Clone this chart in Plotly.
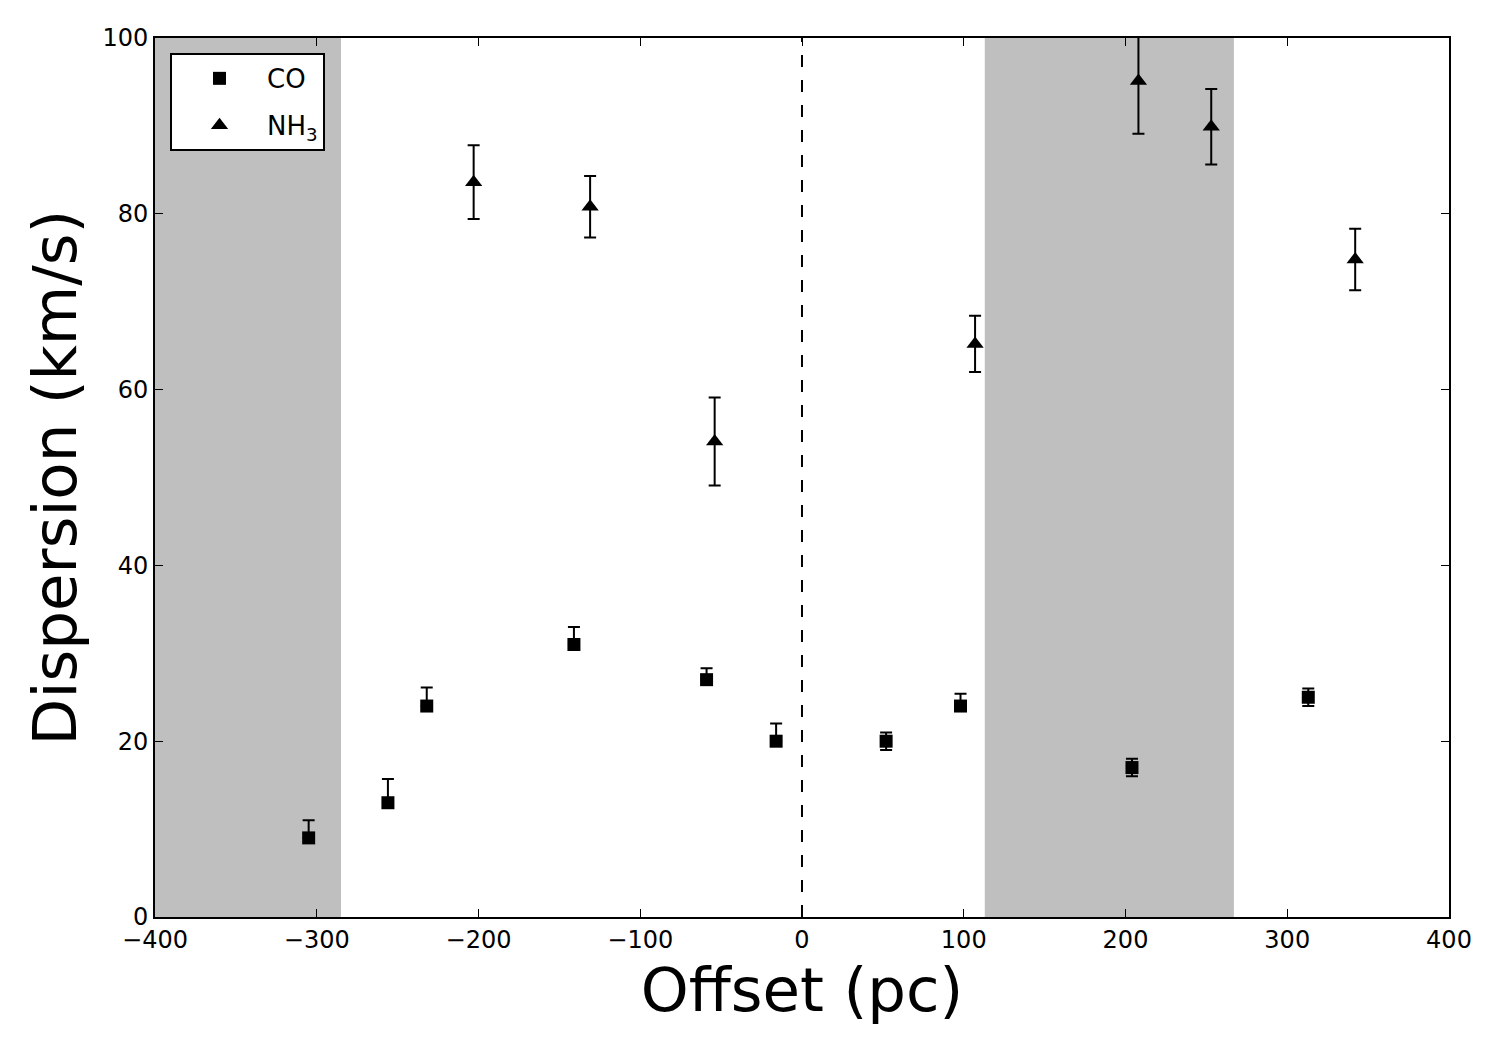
import plotly.graph_objects as go

# CO data
co_x = [-305, -256, -232, -141, -59, -16, 52, 98, 204, 313]
co_y = [9, 13, 24, 31, 27, 20, 20, 24, 17, 25]
co_err_plus = [2.0, 2.7, 2.1, 2.0, 1.3, 2.0, 1.0, 1.4, 1.0, 1.0]
co_err_minus = [0.0, 0.0, 0.0, 0.0, 0.0, 0.0, 1.0, 0.0, 1.0, 1.0]

# NH3 data
nh3_x = [-203, -131, -54, 107, 208, 253, 342]
nh3_y = [83.6, 80.8, 54.1, 65.2, 95.1, 89.9, 74.8]
nh3_err = [4.2, 3.5, 5.0, 3.2, 6.0, 4.3, 3.5]

# shaded regions (x ranges)
shade_regions = [(-400, -285), (113, 267)]

font_family = "DejaVu Sans"

fig = go.Figure()

fig.add_trace(go.Scatter(
    x=co_x, y=co_y, mode="markers", name="CO", legendgroup="co",
    marker=dict(symbol="square", size=13, color="black"),
    error_y=dict(type="data", symmetric=False, array=co_err_plus, arrayminus=co_err_minus,
                 color="black", thickness=2, width=6),
))
fig.add_trace(go.Scatter(
    x=nh3_x, y=nh3_y, mode="markers", name="NH<sub>3</sub>", legendgroup="nh3",
    marker=dict(symbol="triangle-up", size=15, color="black"),
    error_y=dict(type="data", array=nh3_err, color="black", thickness=2, width=6),
))

shapes = []
for x0, x1 in shade_regions:
    shapes.append(dict(type="rect", xref="x", yref="paper", x0=x0, x1=x1, y0=0, y1=1,
                       fillcolor="#bfbfbf", line=dict(width=0), layer="below"))
shapes.append(dict(type="line", xref="x", yref="paper", x0=0, x1=0, y0=0, y1=1,
                   line=dict(color="black", width=2, dash="12px,13px"), layer="above"))

fig.update_layout(
    width=1500, height=1050,
    margin=dict(l=155, r=51, t=38, b=133),
    paper_bgcolor="white", plot_bgcolor="white",
    font=dict(family=font_family, color="black", size=24),
    shapes=shapes,
    showlegend=True,
    legend=dict(x=0.0116, y=0.983, xanchor="left", yanchor="top",
                bordercolor="black", borderwidth=2, bgcolor="white",
                font=dict(size=26, family=font_family), itemwidth=85,
                entrywidth=160, entrywidthmode="pixels",
                traceorder="grouped", tracegroupgap=10),
    xaxis=dict(range=[-400, 400], tickvals=[-400, -300, -200, -100, 0, 100, 200, 300, 400],
               ticktext=["\u2212400", "\u2212300", "\u2212200", "\u2212100", "0", "100", "200", "300", "400"],
               showgrid=False, zeroline=False, showline=True, linecolor="black", linewidth=2,
               mirror="allticks", ticks="inside", ticklen=8, tickwidth=1, tickcolor="black",
               tickfont=dict(size=24),
               title=dict(text="Offset (pc)", font=dict(size=61), standoff=8)),
    yaxis=dict(range=[0, 100], tickvals=[0, 20, 40, 60, 80, 100],
               showgrid=False, zeroline=False, showline=True, linecolor="black", linewidth=2,
               mirror="allticks", ticks="inside", ticklen=8, tickwidth=1, tickcolor="black",
               tickfont=dict(size=24),
               title=dict(text="Dispersion (km/s)", font=dict(size=61), standoff=6)),
)

fig.write_html("out.html")
